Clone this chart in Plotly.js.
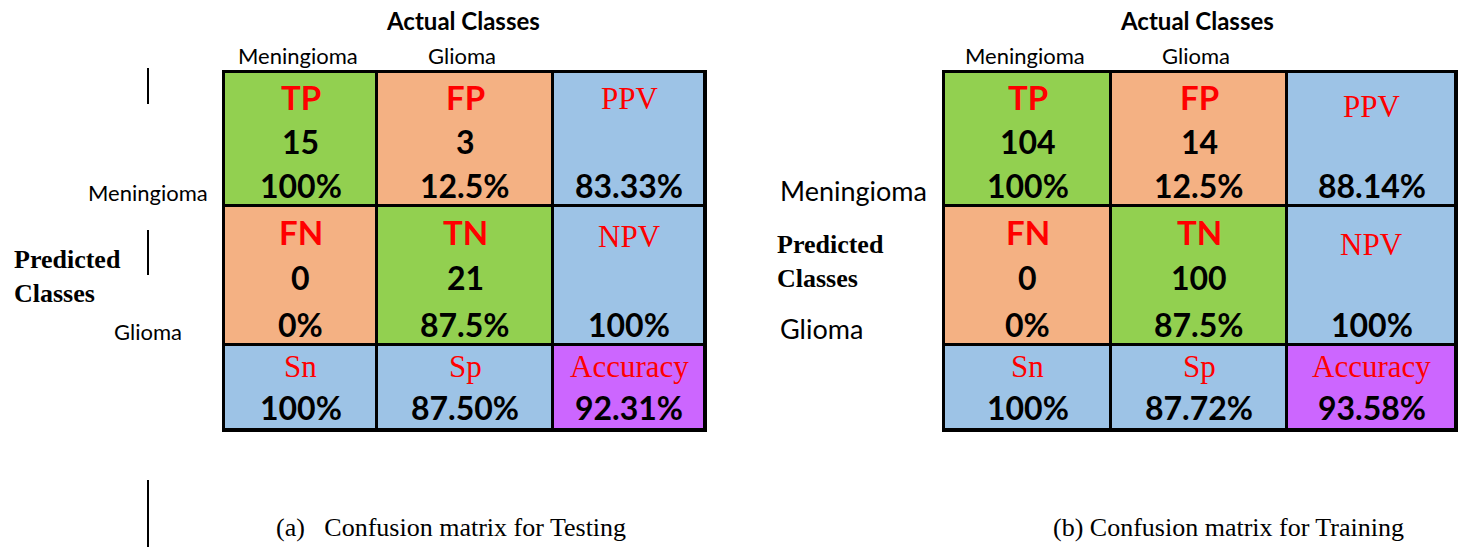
<!DOCTYPE html>
<html><head><meta charset="utf-8">
<script src="https://cdn.plot.ly/plotly-3.0.1.min.js"></script>
<style>html,body{margin:0;padding:0;background:#fff;} #chart{width:1465px;height:547px;}</style>
</head><body><div id="chart"></div>
<script>
// ---- data ----
const classLabels = ["Meningioma", "Glioma"];
const countNames = ["TP", "FP", "FN", "TN"];
const metricNames = ["PPV", "NPV", "Sn", "Sp", "Accuracy"];
const testCounts = [15, 3, 0, 21];
const testRates = ["100%", "12.5%", "0%", "87.5%"];
const testMetrics = ["83.33%", "100%", "100%", "87.50%", "92.31%"];
const trainCounts = [104, 14, 0, 100];
const trainRates = ["100%", "12.5%", "0%", "87.5%"];
const trainMetrics = ["88.14%", "100%", "100%", "87.72%", "93.58%"];
const captions = ["(a)   Confusion matrix for Testing", "(b) Confusion matrix for Training"];
const actualTitle = "Actual Classes";
const predictedTitle = "Predicted<br>Classes";

// ---- styling / geometry ----
const W = 1465, H = 547;
const cellType = [[0, 1, 2], [1, 0, 2], [2, 2, 3]];
const palette = ["#92D050", "#F4B183", "#9DC3E6", "#CC66FF"];
const rowEdges = [72, 206, 345, 430];
const panels = [
  {cols: [224, 377, 553, 705], counts: testCounts, rates: testRates, metrics: testMetrics, metricOff: [0.2, 0.22],
   rowLabSize: 22, rowLab: [[148, 193], [148, 331]], predX: 12, predY: 277, capX: 451},
  {cols: [944, 1111, 1287, 1456], counts: trainCounts, rates: trainRates, metrics: trainMetrics, metricOff: [0.26, 0.28],
   rowLabSize: 27, rowLab: [[854, 190], [821, 328]], predX: 775, predY: 261, capX: 1228}
];
const px = x => x / W, py = y => 1 - y / H;
const SANS = "Lato, 'Open Sans', sans-serif";
const boldSans = (s, c) => ({family: SANS, size: s, color: c, weight: 700});
const serif = (s, c, w) => ({family: "'Liberation Serif', 'Times New Roman', serif", size: s, color: c, weight: w || 400});

const colorscale = [[0, palette[0]], [0.25, palette[0]], [0.25, palette[1]], [0.5, palette[1]],
                    [0.5, palette[2]], [0.75, palette[2]], [0.75, palette[3]], [1, palette[3]]];

const traces = [], annotations = [], layout = {
  width: W, height: H, margin: {l: 0, r: 0, t: 0, b: 0},
  paper_bgcolor: "#ffffff", plot_bgcolor: "#000000", showlegend: false
};

panels.forEach((p, k) => {
  const xa = k === 0 ? "x" : "x2", ya = k === 0 ? "y" : "y2";
  const xk = k === 0 ? "xaxis" : "xaxis2", yk = k === 0 ? "yaxis" : "yaxis2";
  traces.push({
    type: "heatmap", x: p.cols, y: rowEdges, z: cellType, zmin: -0.5, zmax: 3.5,
    colorscale: colorscale, showscale: false, xgap: 3, ygap: 3, hoverinfo: "skip",
    xaxis: xa, yaxis: ya
  });
  const axCommon = {showgrid: false, zeroline: false, showticklabels: false, ticks: "",
    showline: true, mirror: true, linecolor: "#000", linewidth: 2, fixedrange: true};
  layout[xk] = Object.assign({}, axCommon, {range: [p.cols[0], p.cols[3]], domain: [px(p.cols[0]), px(p.cols[3])], anchor: ya});
  layout[yk] = Object.assign({}, axCommon, {range: [rowEdges[3], rowEdges[0]], domain: [py(rowEdges[3]), py(rowEdges[0])], anchor: xa});

  const cx = c => (p.cols[c] + p.cols[c + 1]) / 2;
  const ry = (r, f) => rowEdges[r] + f * (rowEdges[r + 1] - rowEdges[r]);
  const add = (x, y, text, font) => annotations.push({xref: xa, yref: ya, x: x, y: y, text: text, showarrow: false, font: font, xanchor: "center", yanchor: "middle"});
  // count cells
  for (let r = 0; r < 2; r++) for (let c = 0; c < 2; c++) {
    const i = r * 2 + c;
    add(cx(c), ry(r, 0.19), countNames[i], boldSans(33, "#FF0000"));
    add(cx(c), ry(r, 0.515), String(p.counts[i]), boldSans(32, "#000"));
    add(cx(c), ry(r, 0.85), p.rates[i], boldSans(32, "#000"));
  }
  // predictive values
  for (let r = 0; r < 2; r++) {
    add(cx(2), ry(r, p.metricOff[r]), metricNames[r], serif(31, "#FF0000"));
    add(cx(2), ry(r, 0.85), p.metrics[r], boldSans(32, "#000"));
  }
  // bottom row
  for (let c = 0; c < 3; c++) {
    add(cx(c), ry(2, 0.25), metricNames[2 + c], serif(31, "#FF0000"));
    add(cx(c), ry(2, 0.74), p.metrics[2 + c], boldSans(32, "#000"));
  }
  // column class labels
  for (let c = 0; c < 2; c++) {
    annotations.push({xref: xa, yref: "paper", x: cx(c) - 3, y: py(55), text: classLabels[c], showarrow: false,
      font: {family: SANS, size: 22, color: "#000"}, xanchor: "center", yanchor: "middle"});
  }
  // actual classes title
  annotations.push({xref: xa, yref: "paper", x: cx(1) - 2, y: py(20), text: actualTitle, showarrow: false,
    font: boldSans(24, "#000"), xanchor: "center", yanchor: "middle"});
  // row class labels
  for (let r = 0; r < 2; r++) {
    annotations.push({xref: "paper", yref: "paper", x: px(p.rowLab[r][0]), y: py(p.rowLab[r][1]), text: classLabels[r], showarrow: false,
      font: {family: SANS, size: p.rowLabSize, color: "#000"}, xanchor: "center", yanchor: "middle"});
  }
  // predicted classes title
  annotations.push({xref: "paper", yref: "paper", x: px(p.predX), y: py(p.predY), text: predictedTitle, showarrow: false,
    font: serif(26, "#000", 700), xanchor: "left", yanchor: "middle", align: "left"});
  // caption
  annotations.push({xref: "paper", yref: "paper", x: px(p.capX), y: py(527), text: captions[k], showarrow: false,
    font: serif(26, "#000"), xanchor: "center", yanchor: "middle"});
});

layout.annotations = annotations;
layout.shapes = [[68, 104], [230, 275], [480, 547]].map(s => ({
  type: "line", xref: "paper", yref: "paper", x0: px(148), x1: px(148), y0: py(s[0]), y1: py(s[1]),
  line: {color: "#000", width: 2}
}));

Plotly.newPlot("chart", traces, layout, {staticPlot: true, displayModeBar: false});
</script>
</body></html>
